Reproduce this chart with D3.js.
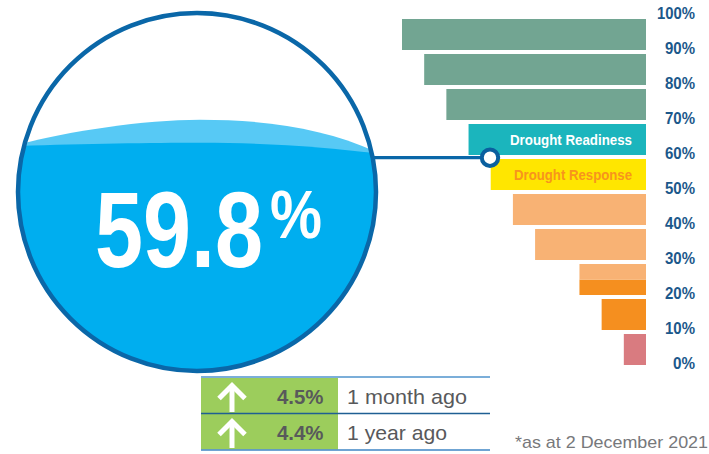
<!DOCTYPE html>
<html>
<head>
<meta charset="utf-8">
<script src="https://cdn.jsdelivr.net/npm/d3@7"></script>
<style>
  html, body { margin: 0; padding: 0; background: #ffffff; }
  svg { display: block; }
</style>
</head>
<body>
<svg id="chart" width="709" height="454"></svg>
<script>
// ---------- DATA ----------
const currentLevel = 59.8;
const bandLow   = [0, 10, 20, 25, 30, 40, 50, 60, 70, 80, 90];
const bandHigh  = [10, 20, 25, 30, 40, 50, 60, 70, 80, 90, 100];
const bandWidth = [1, 2, 3, 3, 5, 6, 7, 8, 9, 10, 11];
const bandColor = ["#d97b80", "#f58f1f", "#f58f1f", "#f8b274", "#f8b274", "#f8b274",
                   "#ffe600", "#1bb5bd", "#72a592", "#72a592", "#72a592"];
const bandLabel = ["", "", "", "", "", "", "Drought Response", "Drought Readiness", "", "", ""];
const bandLabelColor = ["", "", "", "", "", "", "#f7941d", "#ffffff", "", "", ""];
const tickValues = [0, 10, 20, 30, 40, 50, 60, 70, 80, 90, 100];
const changeValues = [4.5, 4.4];
const changePeriods = ["1 month ago", "1 year ago"];
const footnote = "*as at 2 December 2021";

// ---------- SETUP ----------
const svg = d3.select("#chart");
const NARROW = "'Liberation Sans Narrow', 'Arial Narrow', 'Liberation Sans', Arial, sans-serif";

const y = d3.scaleLinear().domain([0, 100]).range([367, 17]);
const x = d3.scaleLinear().domain([0, 11]).range([646, 402]);

const bands = bandLow.map((lo, i) => ({
  lo, hi: bandHigh[i], w: bandWidth[i], color: bandColor[i],
  label: bandLabel[i], labelColor: bandLabelColor[i]
}));

// helper: squeeze a text horizontally to a target width using a transform
function squeeze(sel, x0, y0, targetW) {
  const node = sel.node();
  const w = node.getComputedTextLength() || targetW;
  sel.attr("x", 0).attr("y", 0)
     .attr("transform", `translate(${x0},${y0}) scale(${targetW / w},1)`);
}

// ---------- BARS ----------
const gBars = svg.append("g");
gBars.selectAll("rect").data(bands).join("rect")
  .attr("x", d => x(d.w))
  .attr("width", d => x(0) - x(d.w))
  .attr("y", d => y(d.hi) + (d.hi % 10 === 0 ? 2 : 0))
  .attr("height", d => (y(d.lo) - (d.lo % 10 === 0 ? 2 : 0)) - (y(d.hi) + (d.hi % 10 === 0 ? 2 : 0)))
  .attr("fill", d => d.color);

gBars.selectAll("text").data(bands.filter(d => d.label)).join("text")
  .attr("x", 632)
  .attr("y", d => (y(d.lo) + y(d.hi)) / 2 + 5.5)
  .attr("text-anchor", "end")
  .attr("font-family", NARROW)
  .attr("font-weight", "bold")
  .attr("font-size", 15.5)
  .attr("fill", d => d.labelColor)
  .attr("textLength", d => d.label === "Drought Readiness" ? 122 : 118)
  .attr("lengthAdjust", "spacingAndGlyphs")
  .text(d => d.label);

// ---------- AXIS ----------
const axis = d3.axisRight(y).tickValues(tickValues).tickFormat(d => d + "%").tickSize(0);
const gAxis = svg.append("g").attr("transform", "translate(695,0)").call(axis);
gAxis.select(".domain").remove();
gAxis.selectAll("text")
  .attr("x", 0).attr("dy", null).attr("y", 1.5)
  .attr("text-anchor", "end")
  .attr("font-family", NARROW)
  .attr("font-weight", "bold")
  .attr("font-size", 17)
  .attr("fill", "#1b588b")
  .attr("textLength", d => 8 * String(d).length + 14)
  .attr("lengthAdjust", "spacingAndGlyphs");

// ---------- CIRCLE GAUGE ----------
const cx = 197, cy = 192, R = 179;
const waterY = y(currentLevel);

svg.append("defs").append("clipPath").attr("id", "clipCircle")
  .append("circle").attr("cx", cx).attr("cy", cy).attr("r", R - 1);

const gW = svg.append("g").attr("clip-path", "url(#clipCircle)");
// light wave
gW.append("path")
  .attr("d", `M10,${waterY - 11} C60,${waterY - 25} 140,${waterY - 38} 200,${waterY - 38}
              C270,${waterY - 38} 330,${waterY - 28} 380,${waterY - 4} L395,380 L0,380 Z`)
  .attr("fill", "#57c9f5");
// dark water
gW.append("path")
  .attr("d", `M10,${waterY - 11.5} C80,${waterY - 14} 150,${waterY - 15} 200,${waterY - 15}
              C270,${waterY - 15} 330,${waterY - 10} 380,${waterY - 4} L395,380 L0,380 Z`)
  .attr("fill", "#00aeef");

svg.append("circle")
  .attr("cx", cx).attr("cy", cy).attr("r", R)
  .attr("fill", "none")
  .attr("stroke", "#0a67a8")
  .attr("stroke-width", 4.5);

// connector + marker
const edgeX = cx + Math.sqrt(R * R - (cy - waterY) * (cy - waterY));
svg.append("line")
  .attr("x1", edgeX).attr("x2", 482)
  .attr("y1", waterY).attr("y2", waterY)
  .attr("stroke", "#0a67a8").attr("stroke-width", 3.2);
svg.append("circle")
  .attr("cx", 490).attr("cy", waterY).attr("r", 8.2)
  .attr("fill", "#ffffff")
  .attr("stroke", "#0a5f9f").attr("stroke-width", 4);

// big value
const bigNum = svg.append("text")
  .attr("font-family", NARROW).attr("font-weight", "bold")
  .attr("font-size", 108).attr("fill", "#ffffff")
  .text(currentLevel.toFixed(1));
squeeze(bigNum, 95, 267, 168);
const bigPct = svg.append("text")
  .attr("font-family", NARROW).attr("font-weight", "bold")
  .attr("font-size", 68).attr("fill", "#ffffff")
  .text("%");
squeeze(bigPct, 270, 238, 52);

// ---------- CHANGE TABLE ----------
const rowTop = [378, 414];
const rowH = 35.5;
const gT = svg.append("g");
gT.selectAll("rect.green").data(changeValues).join("rect")
  .attr("class", "green")
  .attr("x", 201).attr("width", 137)
  .attr("y", (d, i) => rowTop[i]).attr("height", rowH)
  .attr("fill", "#9ccd5c");

// lines
gT.append("line").attr("x1", 201).attr("x2", 490).attr("y1", 377).attr("y2", 377)
  .attr("stroke", "#4f93cc").attr("stroke-width", 1.5);
gT.append("line").attr("x1", 201).attr("x2", 490).attr("y1", 413.5).attr("y2", 413.5)
  .attr("stroke", "#1f5f93").attr("stroke-width", 1.5);
gT.append("line").attr("x1", 201).attr("x2", 490).attr("y1", 450).attr("y2", 450)
  .attr("stroke", "#3f86c4").attr("stroke-width", 1.5);

// arrows
changeValues.forEach((v, i) => {
  const top = rowTop[i];
  const ax = 232;
  const g = gT.append("g").attr("stroke", "#ffffff").attr("stroke-width", 5)
    .attr("fill", "none").attr("stroke-linecap", "butt");
  g.append("path").attr("d", `M${ax - 13},${top + 20.5} L${ax},${top + 7.5} L${ax + 13},${top + 20.5}`)
    .attr("stroke-linejoin", "miter");
  g.append("line").attr("x1", ax).attr("x2", ax).attr("y1", top + 8).attr("y2", top + 34);
});

gT.selectAll("text.val").data(changeValues).join("text")
  .attr("class", "val")
  .attr("x", 323.5).attr("y", (d, i) => rowTop[i] + 25.5)
  .attr("text-anchor", "end")
  .attr("font-family", NARROW).attr("font-weight", "bold")
  .attr("font-size", 21).attr("fill", "#58595b")
  .attr("textLength", 46.5).attr("lengthAdjust", "spacingAndGlyphs")
  .text(d => d.toFixed(1) + "%");

gT.selectAll("text.per").data(changePeriods).join("text")
  .attr("class", "per")
  .attr("x", 347).attr("y", (d, i) => rowTop[i] + 25.5)
  .attr("font-family", NARROW)
  .attr("font-size", 21).attr("fill", "#58595b")
  .attr("textLength", (d, i) => i === 0 ? 120 : 100)
  .attr("lengthAdjust", "spacingAndGlyphs")
  .text(d => d);

// footnote
svg.append("text")
  .attr("x", 515).attr("y", 447.5)
  .attr("font-family", NARROW)
  .attr("font-size", 17).attr("fill", "#77787b")
  .attr("textLength", 193).attr("lengthAdjust", "spacingAndGlyphs")
  .text(footnote);
</script>
</body>
</html>
